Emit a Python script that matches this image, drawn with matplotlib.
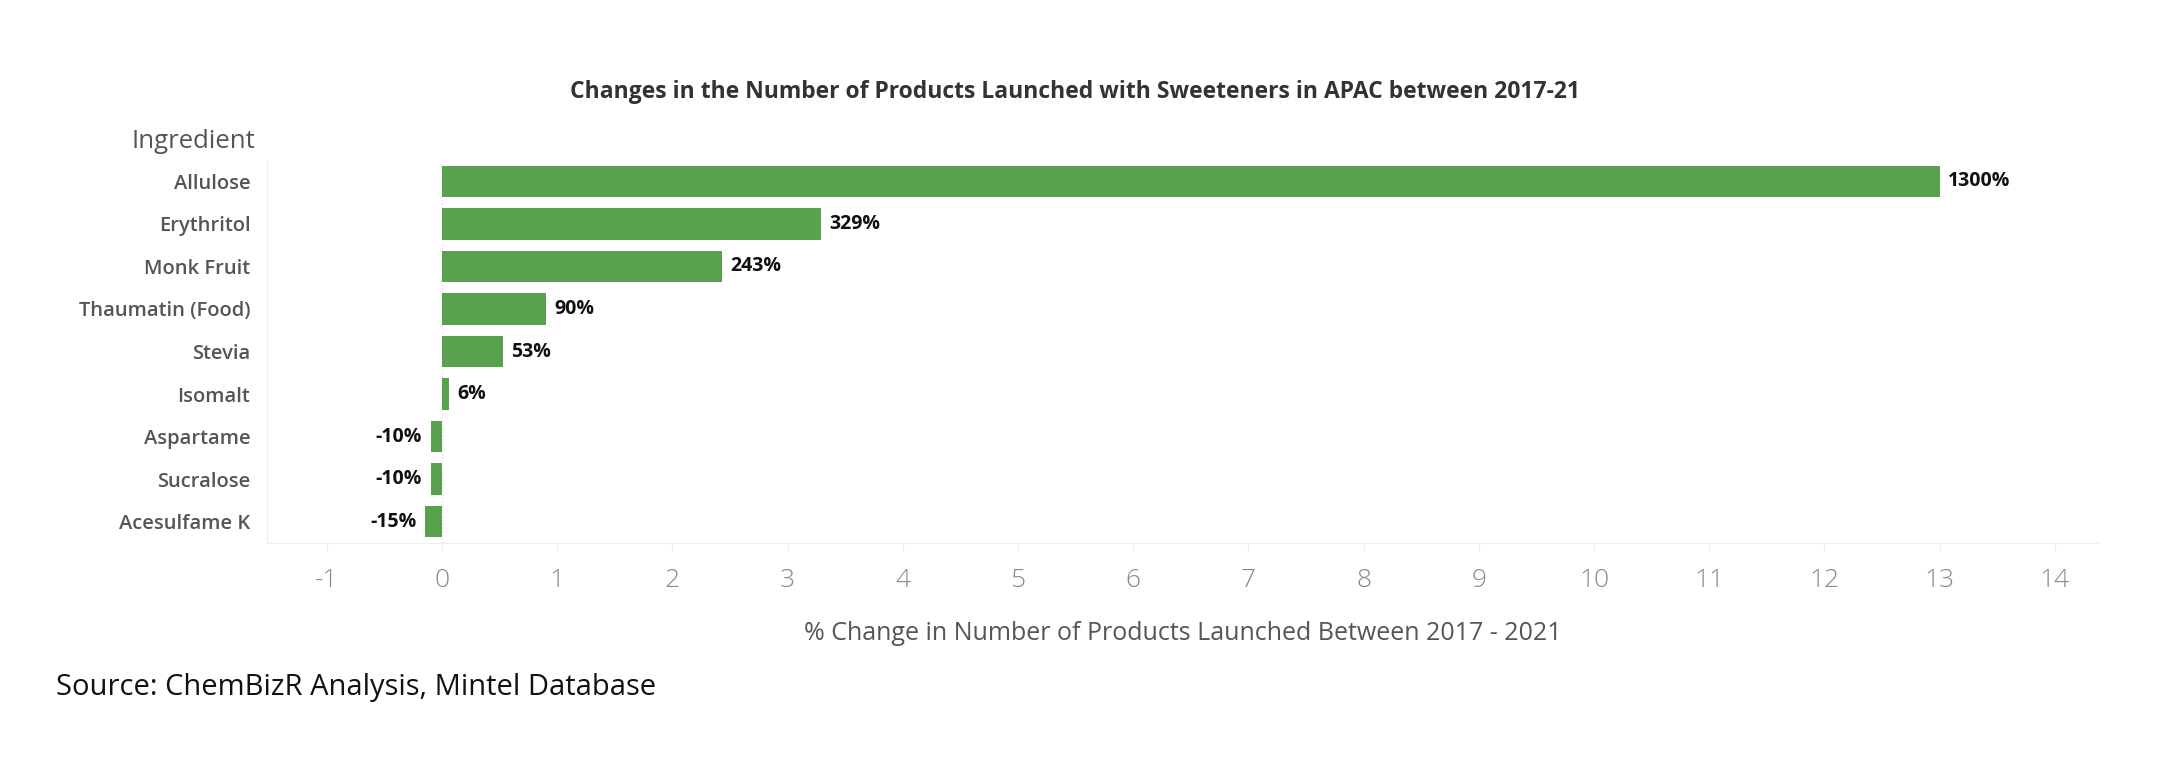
import matplotlib.pyplot as plt

ingredients = ['Allulose', 'Erythritol', 'Monk Fruit', 'Thaumatin (Food)', 'Stevia',
               'Isomalt', 'Aspartame', 'Sucralose', 'Acesulfame K']
change = [13.0, 3.29, 2.43, 0.90, 0.53, 0.06, -0.10, -0.10, -0.15]
labels = ['1300%', '329%', '243%', '90%', '53%', '6%', '-10%', '-10%', '-15%']
ticks = list(range(-1, 15))

plt.rcParams['font.family'] = ['Open Sans', 'DejaVu Sans']

fig = plt.figure(figsize=(21.8, 7.58), dpi=100)
ax = fig.add_axes([267/2180, 1 - 543/758, (2098-267)/2180, 383/758])

y = list(range(len(ingredients)))
ax.barh(y, change, height=0.74, color='#59a14f')
ax.set_ylim(len(ingredients) - 0.5, -0.5)
ax.set_xlim(-1.52, 14.375)

for yi, v, lab in zip(y, change, labels):
    if v >= 0:
        ax.annotate(lab, (v, yi), xytext=(6, 0), textcoords='offset points',
                    ha='left', va='center', fontsize=14, fontweight='bold', color='#111')
    else:
        ax.annotate(lab, (v, yi), xytext=(-6, 0), textcoords='offset points',
                    ha='right', va='center', fontsize=14, fontweight='bold', color='#111')

ax.axvline(0, color='#dddddd', lw=1, ls=':', zorder=0)

ax.set_yticks(y)
ax.set_yticklabels(ingredients, fontsize=14.5, fontweight='semibold', color='#555555')
ax.tick_params(axis='y', length=0, pad=12)

ax.set_xticks(ticks)
ax.set_xticklabels([str(t) for t in ticks], fontsize=19, color='#888888', fontweight='light')
ax.tick_params(axis='x', length=6, color='#eeeeee', pad=12, direction='out')

for s in ['top', 'right']:
    ax.spines[s].set_visible(False)
ax.spines['left'].set_color('#f0f0f0')
ax.spines['bottom'].set_color('#eeeeee')

ax.set_xlabel('% Change in Number of Products Launched Between 2017 - 2021',
              fontsize=18, color='#555555', labelpad=20)

fig.text(1075/2180, 1 - 92/758, 'Changes in the Number of Products Launched with Sweeteners in APAC between 2017-21',
         ha='center', va='center', fontsize=16.5, fontweight='bold', color='#333333')
fig.text(255/2180, 1 - 142/758, 'Ingredient', ha='right', va='center',
         fontsize=18.5, color='#555555')
fig.text(56/2180, 1 - 687/758, 'Source: ChemBizR Analysis, Mintel Database',
         ha='left', va='center', fontsize=21, color='#111111')

fig.savefig('out.png', dpi=100, facecolor='white')
